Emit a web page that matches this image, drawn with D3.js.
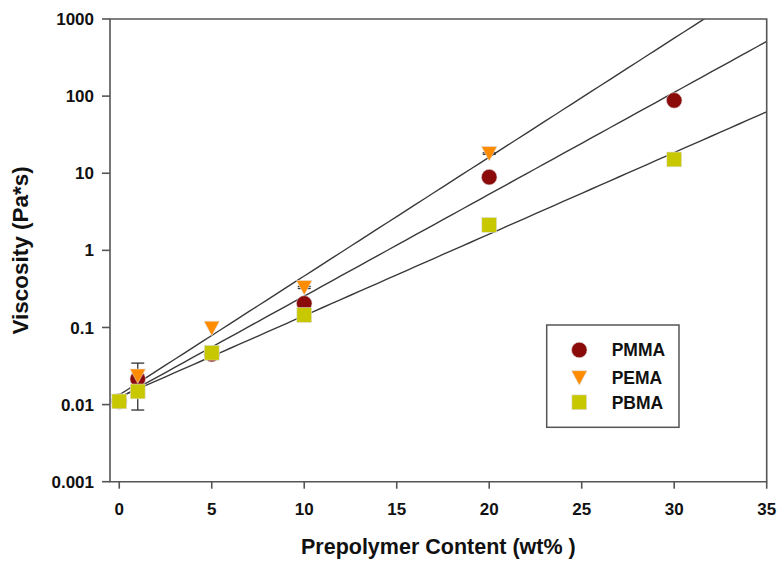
<!DOCTYPE html>
<html>
<head>
    <script src="https://d3js.org/d3.v7.min.js"></script>
    <style>
        body {
            margin: 0;
            background: #fff;
            font-family: 'Liberation Sans', Arial, sans-serif;
            font-weight: bold;
        }
        .axis-line { stroke: #555; stroke-width: 1.6px; fill: none; }
        .fit { stroke: #3a3a3a; stroke-width: 1.4px; fill: none; }
        .err { stroke: #333; stroke-width: 1.3px; fill: none; }
        text { fill: #111; }
    </style>
</head>
<body>
<script>
    // values
    const contents = [0, 1, 5, 10, 20, 30];
    const pmma = [0.011, 0.0215, 0.045, 0.205, 8.9, 88];
    const pmmaErr = [0, 0.013, 0, 0, 0, 0];
    const pemaContents = [0, 1, 5, 10, 20];
    const pema = [0.011, 0.0235, 0.098, 0.33, 18];
    const pemaErr = [0, 0.001, 0, 0.01, 0.4];
    const pbma = [0.011, 0.0148, 0.047, 0.145, 2.14, 15.1];

    const xTicks = [0, 5, 10, 15, 20, 25, 30, 35];
    const yTicks = [0.001, 0.01, 0.1, 1, 10, 100, 1000];
    const yTickLabels = ['0.001', '0.01', '0.1', '1', '10', '100', '1000'];

    const width = 781, height = 561;
    const plotLeft = 110, plotRight = 766.7, plotTop = 19, plotBottom = 481.7;

    const x = d3.scaleLinear().domain([-0.5, 35]).range([plotLeft, plotRight]);
    const y = d3.scaleLog().domain([0.001, 1000]).range([plotBottom, plotTop]);

    const series = [
        { name: 'PMMA', xs: contents, ys: pmma, err: pmmaErr, color: '#8b0a0a', shape: 'circle' },
        { name: 'PEMA', xs: pemaContents, ys: pema, err: pemaErr, color: '#ff8c00', shape: 'triangle' },
        { name: 'PBMA', xs: contents, ys: pbma, err: null, color: '#c8c800', shape: 'square' }
    ];

    // exponential fit: least squares on log10(y)
    function fit(xs, ys) {
        const ly = ys.map(v => Math.log10(v));
        const mx = d3.mean(xs), my = d3.mean(ly);
        const sxy = d3.sum(xs, (v, i) => (v - mx) * (ly[i] - my));
        const sxx = d3.sum(xs, v => (v - mx) * (v - mx));
        const b = sxy / sxx;
        return { a: my - b * mx, b: b };
    }

    const svg = d3.select('body').append('svg')
        .attr('width', width)
        .attr('height', height);

    svg.append('clipPath').attr('id', 'plot-clip')
        .append('rect')
        .attr('x', plotLeft).attr('y', plotTop)
        .attr('width', plotRight - plotLeft).attr('height', plotBottom - plotTop);

    // fitted lines
    const lineGen = d3.line().x(d => x(d[0])).y(d => y(d[1]));
    series.forEach(s => {
        const f = fit(s.xs, s.ys);
        const pts = d3.range(0, 35.01, 0.5).map(v => [v, Math.pow(10, f.a + f.b * v)]);
        svg.append('path')
            .attr('class', 'fit')
            .attr('clip-path', 'url(#plot-clip)')
            .attr('d', lineGen(pts));
    });

    // error bars
    series.filter(s => s.err).forEach(s => {
        s.xs.forEach((v, i) => {
            const e = s.err[i];
            if (!e) return;
            const cx = x(v);
            const y0 = y(s.ys[i] - e), y1 = y(s.ys[i] + e);
            const g = svg.append('g').attr('class', 'err');
            g.append('line').attr('x1', cx).attr('x2', cx).attr('y1', y0).attr('y2', y1);
            g.append('line').attr('x1', cx - 6.5).attr('x2', cx + 6.5).attr('y1', y0).attr('y2', y0);
            g.append('line').attr('x1', cx - 6.5).attr('x2', cx + 6.5).attr('y1', y1).attr('y2', y1);
        });
    });

    function drawMarker(g, shape, cx, cy, color) {
        if (shape === 'circle') {
            g.append('circle').attr('cx', cx).attr('cy', cy).attr('r', 7.8)
                .attr('fill', color).attr('stroke', '#ddd').attr('stroke-width', 0.6);
        } else if (shape === 'triangle') {
            g.append('path')
                .attr('d', `M${cx - 7.8},${cy - 7} L${cx + 7.8},${cy - 7} L${cx},${cy + 7.5} Z`)
                .attr('fill', color).attr('stroke', '#ddd').attr('stroke-width', 0.6);
        } else {
            g.append('rect').attr('x', cx - 7.4).attr('y', cy - 7.4)
                .attr('width', 14.8).attr('height', 14.8)
                .attr('fill', color).attr('stroke', '#ddd').attr('stroke-width', 0.6);
        }
    }

    // markers
    series.forEach(s => {
        const g = svg.append('g');
        s.xs.forEach((v, i) => drawMarker(g, s.shape, x(v), y(s.ys[i]), s.color));
    });

    // frame
    svg.append('path').attr('class', 'axis-line')
        .attr('d', `M${plotLeft},${plotTop} H${plotRight} V${plotBottom} H${plotLeft} Z`);

    // y ticks
    const yAxis = svg.append('g');
    yTicks.forEach((t, i) => {
        yAxis.append('line').attr('class', 'axis-line')
            .attr('x1', plotLeft - 8).attr('x2', plotLeft)
            .attr('y1', y(t)).attr('y2', y(t));
        yAxis.append('text')
            .attr('x', plotLeft - 16).attr('y', y(t)).attr('dy', '0.36em')
            .attr('text-anchor', 'end')
            .style('font-size', '17px')
            .text(yTickLabels[i]);
    });

    // x ticks
    const xAxis = svg.append('g');
    xTicks.forEach(t => {
        xAxis.append('line').attr('class', 'axis-line')
            .attr('x1', x(t)).attr('x2', x(t))
            .attr('y1', plotBottom).attr('y2', plotBottom + 7);
        xAxis.append('text')
            .attr('x', x(t)).attr('y', 515)
            .attr('text-anchor', 'middle')
            .style('font-size', '17px')
            .text(t);
    });

    // axis titles
    svg.append('text')
        .attr('x', (plotLeft + plotRight) / 2).attr('y', 554)
        .attr('text-anchor', 'middle')
        .style('font-size', '21.5px')
        .text('Prepolymer Content (wt% )');

    svg.append('text')
        .attr('transform', `translate(28,${(plotTop + plotBottom) / 2}) rotate(-90)`)
        .attr('text-anchor', 'middle')
        .style('font-size', '22.5px')
        .text('Viscosity (Pa*s)');

    // legend
    const legend = svg.append('g');
    legend.append('rect')
        .attr('x', 546.7).attr('y', 325)
        .attr('width', 132.3).attr('height', 102.3)
        .attr('fill', '#fff').attr('stroke', '#555').attr('stroke-width', 1.5);
    const rowY = [350, 377.7, 402.3];
    series.forEach((s, i) => {
        drawMarker(legend, s.shape, 579.3, rowY[i], s.color);
        legend.append('text')
            .attr('x', 611.7).attr('y', rowY[i]).attr('dy', '0.36em')
            .style('font-size', '17.5px')
            .text(s.name);
    });
</script>
</body>
</html>
